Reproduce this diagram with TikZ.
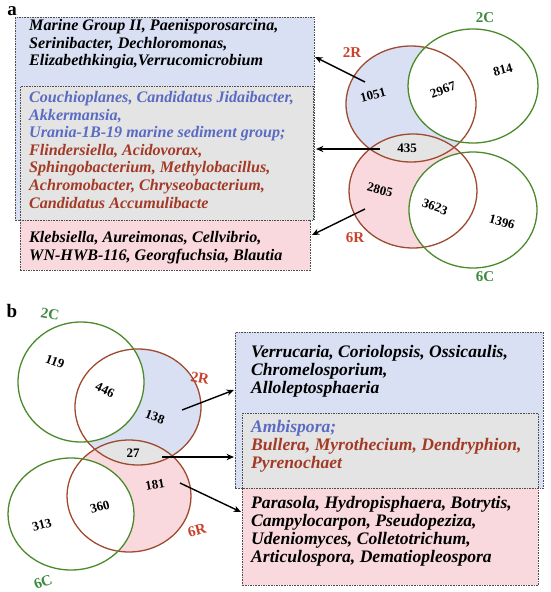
\documentclass[tikz,border=0pt]{standalone}
\usepackage{fontspec}
\setmainfont{Liberation Serif}
\usepackage{xcolor}
\definecolor{fillblue}{HTML}{D9E0F3}
\definecolor{fillgray}{HTML}{E4E4E4}
\definecolor{fillpink}{HTML}{F9D9DE}
\definecolor{ringred}{HTML}{9E4A2E}
\definecolor{ringgreen}{HTML}{4A8A2A}
\definecolor{labred}{HTML}{C8432B}
\definecolor{labgreen}{HTML}{3D8B3D}
\definecolor{txtblue}{HTML}{5A6BC4}
\definecolor{txtred}{HTML}{A33A26}
\definecolor{boxline}{HTML}{4D4D4D}
\usepackage{tikz}
\usetikzlibrary{arrows.meta}

\begin{document}
\begin{tikzpicture}[x=1pt,y=-1pt,
    ring/.style={line width=1.3pt},
    count/.style={font=\fontsize{13}{13}\selectfont\bfseries,inner sep=1pt},
    setlab/.style={font=\fontsize{15}{15}\selectfont\bfseries,inner sep=1pt},
    panel/.style={font=\fontsize{19}{19}\selectfont\bfseries,inner sep=0pt},
    listbox/.style={draw=boxline,line width=.7pt,dash pattern=on 1.6pt off 1pt,
      anchor=north west,inner sep=0pt},
    list/.style={anchor=base west,align=left,inner sep=0pt,
      font=\fontsize{16.1}{17.6}\selectfont\bfseries\itshape},
    listb/.style={list,font=\fontsize{17.6}{18}\selectfont\bfseries\itshape},
    pointer/.style={-{Stealth[length=2.6mm,width=2.2mm]},line width=1.4pt}]
  \useasboundingbox (0,0) rectangle (550,592);

  % panel a (anchors sit on the last line of each list)
  \node[panel] (pa) at (12,11) {a};
  \node[listbox,fill=fillblue,minimum width=299pt,minimum height=203pt] (ablue) at (15,17) {};
  \node[listbox,fill=fillgray,minimum width=293pt,minimum height=134pt] (agray) at (20,86) {};
  \node[listbox,fill=fillpink,minimum width=290pt,minimum height=50pt] (apink) at (20,220) {};
  \node[list] (ablueT) at (29,65.7) {Marine Group II, Paenisporosarcina,\\
    Serinibacter, Dechloromonas,\\ Elizabethkingia,Verrucomicrobium};
  \node[list] (agrayT) at (29,208.1) {{\color{txtblue}Couchioplanes, Candidatus Jidaibacter,}\\
    {\color{txtblue}Akkermansia,}\\
    {\color{txtblue}Urania-1B-19 marine sediment group;}\\
    {\color{txtred}Flindersiella, Acidovorax,}\\
    {\color{txtred}Sphingobacterium, Methylobacillus,}\\
    {\color{txtred}Achromobacter, Chryseobacterium,}\\
    {\color{txtred}Candidatus Accumulibacte}};
  \node[list] (apinkT) at (29,260.1) {Klebsiella, Aureimonas, Cellvibrio,\\
    WN-HWB-116, Georgfuchsia, Blautia};

  \coordinate (a2R) at (411,104);
  \coordinate (a2C) at (473,86);
  \coordinate (a6R) at (413,191);
  \coordinate (a6C) at (473,210);
  \fill[fillblue] (a2R) ellipse [x radius=65,y radius=58];
  \fill[fillpink] (a6R) ellipse [x radius=64,y radius=57];
  \begin{scope}
    \clip (a2R) ellipse [x radius=65,y radius=58];
    \fill[fillgray] (a6R) ellipse [x radius=64,y radius=57];
  \end{scope}
  \fill[white] (a2C) ellipse [x radius=65,y radius=57];
  \fill[white] (a6C) ellipse [x radius=64,y radius=58];
  \draw[ring,ringred] (a2R) ellipse [x radius=65,y radius=58];
  \draw[ring,ringred] (a6R) ellipse [x radius=64,y radius=57];
  \draw[ring,ringgreen] (a2C) ellipse [x radius=65,y radius=57];
  \draw[ring,ringgreen] (a6C) ellipse [x radius=64,y radius=58];

  \node[count,rotate=15] (n1051) at (373,95) {1051};
  \node[count,rotate=20] (n2967) at (443,90) {2967};
  \node[count,rotate=15] (n814) at (503,70) {814};
  \node[count] (n435) at (407,148) {435};
  \node[count,rotate=-15] (n2805) at (380,190) {2805};
  \node[count,rotate=-20] (n3623) at (435,207) {3623};
  \node[count,rotate=-15] (n1396) at (502,222) {1396};
  \node[setlab,labred] (la2R) at (352,53) {2R};
  \node[setlab,labgreen] (la2C) at (485,18) {2C};
  \node[setlab,labred] (la6R) at (355,238) {6R};
  \node[setlab,labgreen] (la6C) at (485,277) {6C};

  \coordinate (aS1) at (365,82);
  \coordinate (aS2) at (380,149);
  \coordinate (aS3) at (365,209);
  \coordinate (aE1) at (315,57);
  \coordinate (aE2) at (316,149);
  \coordinate (aE3) at (312,235);
  \draw[pointer] (aS1) -- (aE1);
  \draw[pointer] (aS2) -- (aE2);
  \draw[pointer] (aS3) -- (aE3);

  % panel b
  \node[panel] (pb) at (12,311) {b};
  \coordinate (b2C) at (81,382);
  \coordinate (b2R) at (138,407);
  \coordinate (b6R) at (129,496);
  \coordinate (b6C) at (71,514);
  \fill[fillblue] (b2R) ellipse [x radius=63,y radius=58];
  \fill[fillpink] (b6R) ellipse [x radius=62,y radius=56];
  \begin{scope}
    \clip (b2R) ellipse [x radius=63,y radius=58];
    \fill[fillgray] (b6R) ellipse [x radius=62,y radius=56];
  \end{scope}
  \fill[white] (b2C) ellipse [x radius=63,y radius=60];
  \fill[white] (b6C) ellipse [x radius=63,y radius=56];
  \draw[ring,ringred] (b2R) ellipse [x radius=63,y radius=58];
  \draw[ring,ringred] (b6R) ellipse [x radius=62,y radius=56];
  \draw[ring,ringgreen] (b2C) ellipse [x radius=63,y radius=60];
  \draw[ring,ringgreen] (b6C) ellipse [x radius=63,y radius=56];

  \node[count,rotate=-20] (n119) at (55,362) {119};
  \node[count,rotate=-25] (n446) at (105,390) {446};
  \node[count,rotate=-20] (n138) at (155,417) {138};
  \node[count] (n27) at (133,453) {27};
  \node[count,rotate=10] (n181) at (155,485) {181};
  \node[count,rotate=15] (n360) at (100,507) {360};
  \node[count,rotate=15] (n313) at (42,525) {313};
  \node[setlab,labgreen,rotate=-10] (lb2C) at (50,314) {2C};
  \node[setlab,labred,rotate=-10] (lb2R) at (200,378) {2R};
  \node[setlab,labred,rotate=15] (lb6R) at (197,530) {6R};
  \node[setlab,labgreen,rotate=20] (lb6C) at (43,582) {6C};

  \node[listbox,fill=fillblue,minimum width=308pt,minimum height=156pt] (bblue) at (235,332) {};
  \node[listbox,fill=fillgray,minimum width=296pt,minimum height=75pt] (bgray) at (242,413) {};
  \node[listbox,fill=fillpink,minimum width=296pt,minimum height=97pt] (bpink) at (242,488) {};
  \node[listb] (bblueT) at (251,393.5) {Verrucaria, Coriolopsis, Ossicaulis,\\
    Chromelosporium,\\ Alloleptosphaeria};
  \node[listb] (bgrayT) at (251,468.5) {{\color{txtblue}Ambispora;}\\
    {\color{txtred}Bullera, Myrothecium, Dendryphion,}\\
    {\color{txtred}Pyrenochaet}};
  \node[listb] (bpinkT) at (251,562.5) {Parasola, Hydropisphaera, Botrytis,\\
    Campylocarpon, Pseudopeziza,\\ Udeniomyces, Colletotrichum,\\
    Articulospora, Dematiopleospora};

  \coordinate (bS1) at (182,410);
  \coordinate (bS2) at (162,457);
  \coordinate (bS3) at (180,483);
  \coordinate (bE1) at (234,390);
  \coordinate (bE2) at (234,457);
  \coordinate (bE3) at (241,512);
  \draw[pointer] (bS1) -- (bE1);
  \draw[pointer] (bS2) -- (bE2);
  \draw[pointer] (bS3) -- (bE3);
\end{tikzpicture}
\end{document}
